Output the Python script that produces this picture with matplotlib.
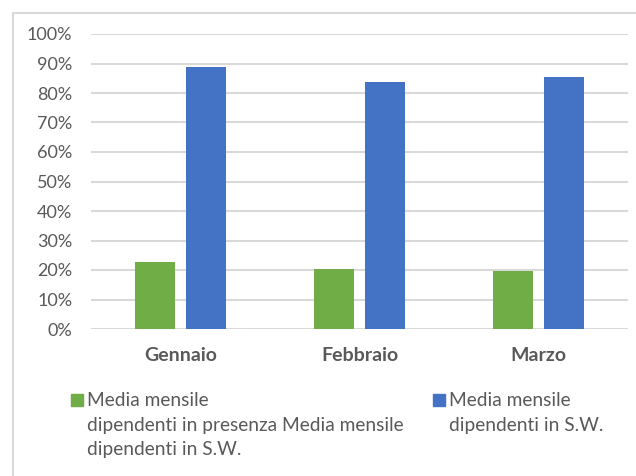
import matplotlib.pyplot as plt
import numpy as np
from matplotlib.patches import Rectangle
from matplotlib.ticker import PercentFormatter

mesi = ['Gennaio', 'Febbraio', 'Marzo']
presenza = [0.227, 0.203, 0.197]
smart_working = [0.888, 0.837, 0.854]
label_presenza = 'Media mensile\ndipendenti in presenza Media mensile\ndipendenti in S.W.'
label_sw = 'Media mensile\ndipendenti in S.W.'
colori = ['#70ad47', '#4472c4']

plt.rcParams['font.family'] = ['Lato', 'DejaVu Sans']
grigio = '#595959'

fig = plt.figure(figsize=(6.36, 4.76), dpi=100)
W, H = 636, 476
ax = fig.add_axes([91 / W, 1 - 329 / H, (628 - 91) / W, (329 - 34) / H])

x = np.arange(len(mesi))
w = 0.223
ax.bar(x - 0.145, presenza, w, color=colori[0], zorder=3)
ax.bar(x + 0.14, smart_working, w, color=colori[1], zorder=3)

ax.set_xlim(-0.5, 2.5)
ax.set_ylim(0, 1)
ax.set_yticks(np.arange(0, 1.01, 0.1))
ax.yaxis.set_major_formatter(PercentFormatter(1.0, decimals=0))
ax.grid(axis='y', color='#d9d9d9', linewidth=1.5, zorder=0)
for s in ax.spines.values():
    s.set_visible(False)
ax.tick_params(length=0)
ax.tick_params(axis='y', labelsize=13, labelcolor=grigio, pad=13.5)
ax.set_xticks(x)
ax.set_xticklabels(mesi, fontsize=14, fontweight='bold', color=grigio)
ax.tick_params(axis='x', pad=13)

# legenda costruita a mano (quadratino allineato alla prima riga)
def voce(x0, label, colore):
    fig.add_artist(Rectangle((x0 / W, 1 - 406 / H), 12 / W, 12 / H,
                             transform=fig.transFigure, color=colore))
    for i, riga in enumerate(label.split('\n')):
        fig.text((x0 + 16) / W, 1 - (401 + 24.5 * i) / H, riga,
                 fontsize=13.8, color=grigio, va='center', ha='left')

voce(71, label_presenza, colori[0])
voce(433, label_sw, colori[1])

fig.add_artist(Rectangle((12.5 / W, -0.1), 1.2, 1 - 12.5 / H + 0.1,
                         transform=fig.transFigure, fill=False,
                         edgecolor='#d9d9d9', linewidth=1.5))

fig.savefig('out.png', dpi=100)
